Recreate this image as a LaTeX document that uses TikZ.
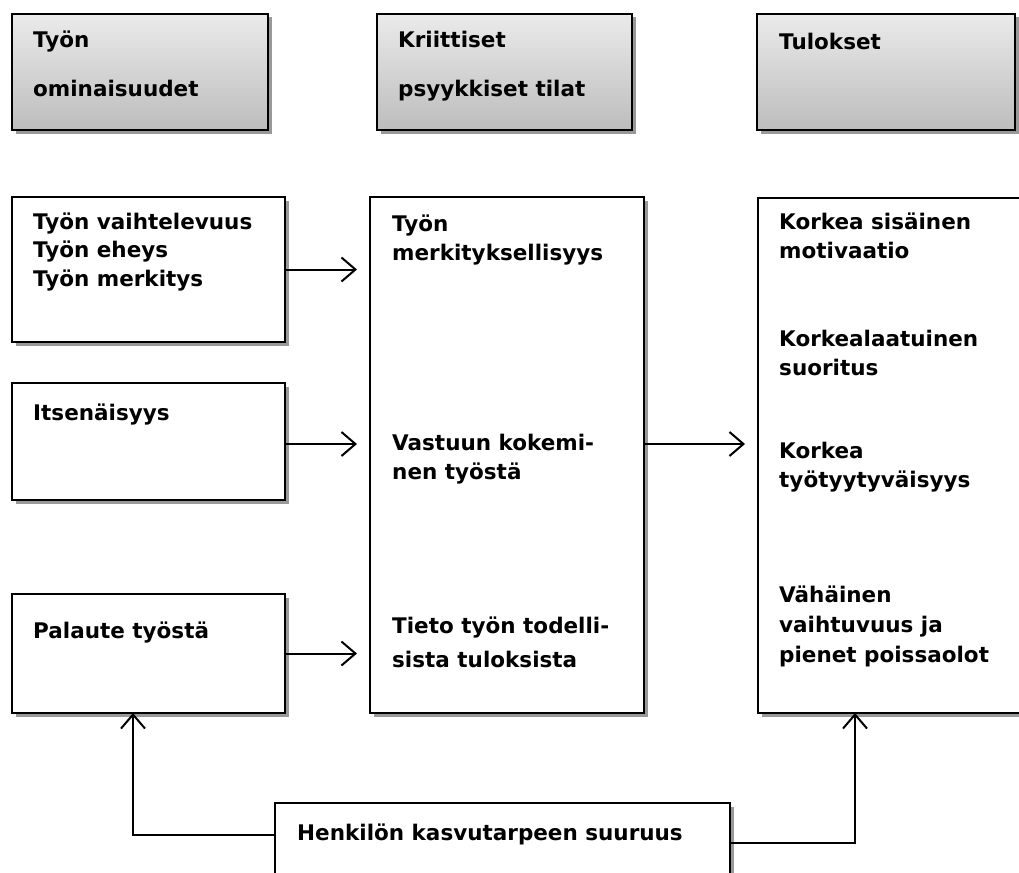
\documentclass[tikz,border=0pt]{standalone}
\usepackage{fontspec}
\setmainfont{DejaVu Sans}
\usetikzlibrary{arrows.meta,shadows}
\begin{document}
\begin{tikzpicture}[x=1pt,y=1pt,
  boxbase/.style={draw=black, line width=2pt, inner sep=0pt, outer sep=0pt, anchor=north west,
    drop shadow={shadow xshift=3.5pt, shadow yshift=-3.5pt, fill=black!40, opacity=1}},
  headbox/.style={boxbase, top color=black!8, bottom color=black!26},
  bodybox/.style={boxbase, fill=white},
  txt/.style={font=\bfseries\fontsize{21.5}{28.5}\selectfont, align=left, inner sep=0pt, anchor=base west},
  arr/.style={line width=2pt, -{Straight Barb[length=14pt,width=24pt,line width=2pt]}}
]
\useasboundingbox (0,0) rectangle (1019,-872);
% header boxes
\node[headbox, minimum width=256pt, minimum height=116pt] (h1) at (12,-14) {};
\node[headbox, minimum width=255pt, minimum height=116pt] (h2) at (377,-14) {};
\node[headbox, minimum width=258pt, minimum height=116pt] (h3) at (757,-14) {};
\node[txt] (h1t) at (33,-97) {Työn\\[20.5pt]ominaisuudet};
\node[txt] (h2t) at (398,-97) {Kriittiset\\[20.5pt]psyykkiset tilat};
\node[txt] (h3t) at (779,-50) {Tulokset};
% left column
\node[bodybox, minimum width=273pt, minimum height=145pt] (a) at (12,-197) {};
\node[bodybox, minimum width=273pt, minimum height=117pt] (b) at (12,-383) {};
\node[bodybox, minimum width=273pt, minimum height=119pt] (c) at (12,-594) {};
\node[txt] (at) at (33,-286) {Työn vaihtelevuus\\Työn eheys\\Työn merkitys};
\node[txt] (bt) at (33,-420) {Itsenäisyys};
\node[txt] (ct) at (33,-638) {Palaute työstä};
% middle column
\node[bodybox, minimum width=274pt, minimum height=516pt] (m) at (370,-197) {};
\node[txt] (m1) at (392,-260) {Työn\\merkityksellisyys};
\node[txt] (m2) at (392,-479) {Vastuun kokemi-\\nen työstä};
\node[txt] (m3) at (392,-667) {Tieto työn todelli-\\[5.5pt]sista tuloksista};
% right column
\node[bodybox, minimum width=275pt, minimum height=515pt] (r) at (758,-198) {};
\node[txt] (r1) at (779,-258) {Korkea sisäinen\\motivaatio};
\node[txt] (r2) at (779,-375) {Korkealaatuinen\\suoritus};
\node[txt] (r3) at (779,-487) {Korkea\\työtyytyväisyys};
\node[txt] (r4) at (779,-662) {Vähäinen\\[1.5pt]vaihtuvuus ja\\[1.5pt]pienet poissaolot};
% bottom box
\node[bodybox, minimum width=455pt, minimum height=90pt] (d) at (275,-803) {};
\node[txt] (dt) at (297,-840) {Henkilön kasvutarpeen suuruus};
% connectors
\draw[arr, shorten >=13pt] (a.east) -- (a.east -| m.west);
\draw[arr, shorten >=13pt] ([yshift=-2.5pt]b.east) -- ([yshift=-2.5pt]b.east -| m.west);
\draw[arr, shorten >=13pt] (c.east) -- (c.east -| m.west);
\draw[arr, shorten >=13pt] ([yshift=11pt]m.east) -- ([yshift=11pt]m.east -| r.west);
\draw[arr] ([yshift=-32pt]d.north west) -| ([xshift=-15.5pt]c.south);
\draw[arr] ([yshift=-40pt]d.north east) -| ([xshift=-40.5pt]r.south);
\end{tikzpicture}
\end{document}
